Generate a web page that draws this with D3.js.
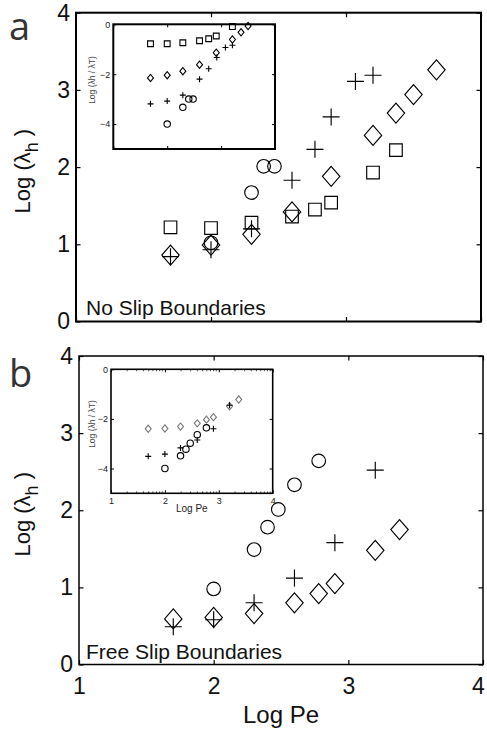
<!DOCTYPE html>
<html>
<head>
<meta charset="utf-8">
<script src="https://cdn.jsdelivr.net/npm/d3@7"></script>
<style>
  body { margin: 0; background: #fff; }
  svg { display: block; }
</style>
</head>
<body>
<svg id="chart" width="487" height="731"></svg>
<script>
// Data: [log Pe, value]
// panel a, main: log(lambda_h)
const noSlipSquare = [[1.70,1.22],[2.00,1.21],[2.30,1.28],[2.60,1.36],[2.77,1.45],[2.89,1.54],[3.20,1.93],[3.37,2.22]];
const noSlipDiamond = [[1.70,0.86],[2.00,0.99],[2.30,1.13],[2.60,1.42],[2.89,1.88],[3.20,2.41],[3.37,2.70],[3.50,2.94],[3.67,3.26]];
const noSlipPlus = [[1.70,0.84],[2.00,0.93],[2.30,1.20],[2.60,1.83],[2.77,2.23],[2.89,2.65],[3.07,3.11],[3.20,3.19]];
const noSlipCircle = [[2.00,1.02],[2.30,1.67],[2.39,2.01],[2.47,2.01]];

// panel a, inset: log(lambda_h / lambda_T)
const noSlipSquareIn = [[1.69,-0.78],[2.00,-0.78],[2.29,-0.74],[2.60,-0.66],[2.77,-0.58],[2.91,-0.47],[3.21,-0.09]];
const noSlipDiamondIn = [[1.69,-2.15],[2.00,-2.04],[2.29,-1.88],[2.60,-1.62],[2.91,-1.14],[3.21,-0.61],[3.37,-0.32],[3.50,-0.07]];
const noSlipPlusIn = [[1.69,-3.19],[2.00,-3.08],[2.29,-2.84],[2.60,-2.20],[2.77,-1.78],[2.92,-1.33],[3.08,-0.93],[3.21,-0.84]];
const noSlipCircleIn = [[2.00,-4.00],[2.29,-3.33],[2.40,-3.00],[2.48,-3.00]];

// panel b, main
const freeSlipCircle = [[2.00,0.98],[2.30,1.49],[2.40,1.78],[2.48,2.01],[2.60,2.33],[2.78,2.64]];
const freeSlipPlus = [[1.70,0.49],[2.00,0.58],[2.30,0.80],[2.60,1.12],[2.90,1.58],[3.20,2.52]];
const freeSlipDiamond = [[1.70,0.59],[2.00,0.61],[2.30,0.66],[2.60,0.80],[2.78,0.92],[2.90,1.05],[3.20,1.48],[3.38,1.75]];

// panel b, inset
const freeSlipDiamondIn = [[1.69,-2.40],[2.00,-2.39],[2.29,-2.31],[2.60,-2.18],[2.77,-2.03],[2.90,-1.93],[3.20,-1.49],[3.37,-1.22]];
const freeSlipPlusIn = [[1.69,-3.51],[2.00,-3.42],[2.29,-3.17],[2.60,-2.85],[2.90,-2.40],[3.20,-1.45]];
const freeSlipCircleIn = [[2.00,-4.00],[2.29,-3.49],[2.39,-3.22],[2.47,-2.98],[2.60,-2.64],[2.77,-2.36]];

// axes
const xDomain = [1, 4];
const xTicks = [1, 2, 3, 4];
const mainYDomain = [0, 4];
const mainYTicks = [0, 1, 2, 3, 4];
const insetYDomain = [-5, 0];
const insetYTicks = [-4, -2, 0];
const minorFactors = [2, 3, 4, 5, 6, 7, 8, 9];

const svg = d3.select("#chart");
const numFont = "'Liberation Sans', Arial, Helvetica, sans-serif";

// marker sizes (half extents)
const bigMark = { sq: 6.3, r: 6.8, dw: 8.7, dh: 10, p: 8.5, sw: 1.15 };
const smallMark = { sq: 2.9, r: 3.2, dw: 3, dh: 3.6, p: 3, sw: 1.1 };

function markerPath(type, s) {
  if (type === "square") {
    return `M${-s.sq},${-s.sq}H${s.sq}V${s.sq}H${-s.sq}Z`;
  } else if (type === "diamond") {
    return `M0,${-s.dh}L${s.dw},0L0,${s.dh}L${-s.dw},0Z`;
  } else if (type === "plus") {
    return `M${-s.p},0H${s.p}M0,${-s.p}V${s.p}`;
  }
  // circle
  return `M${s.r},0A${s.r},${s.r} 0 1,1 ${-s.r},0A${s.r},${s.r} 0 1,1 ${s.r},0Z`;
}

function drawSeries(g, x, y, data, type, s, color) {
  g.append("g").selectAll("path")
    .data(data)
    .enter().append("path")
      .attr("transform", d => `translate(${x(d[0])},${y(d[1])})`)
      .attr("d", markerPath(type, s))
      .attr("fill", "none")
      .attr("stroke", color || "#000")
      .attr("stroke-width", s.sw);
}

// box with inward ticks on every side, matlab style
function drawFrame(g, x, y, opt) {
  const w = x.range()[1], h = y.range()[0];
  const t = opt.tick;

  const left = g.append("g")
    .call(d3.axisLeft(y).tickValues(opt.yTicks).tickSizeInner(-t).tickSizeOuter(0)
      .tickPadding(opt.yPad).tickFormat(opt.yLabels ? d3.format("d") : ""));
  const right = g.append("g").attr("transform", `translate(${w},0)`)
    .call(d3.axisRight(y).tickValues(opt.yTicks).tickSizeInner(-t).tickSizeOuter(0).tickFormat(""));
  const bottom = g.append("g").attr("transform", `translate(0,${h})`)
    .call(d3.axisBottom(x).tickValues(opt.xTicks).tickSizeInner(-t).tickSizeOuter(0)
      .tickPadding(opt.xPad).tickFormat(opt.xLabels ? d3.format("d") : ""));
  const top = g.append("g")
    .call(d3.axisTop(x).tickValues(opt.xTicks).tickSizeInner(-t).tickSizeOuter(0).tickFormat(""));

  [left, right, bottom, top].forEach(a => {
    a.select(".domain").remove();
    a.selectAll(".tick line").attr("stroke", "#000").attr("stroke-width", opt.tickW);
    a.selectAll("text")
      .attr("fill", opt.textColor)
      .style("font-family", numFont)
      .style("font-size", opt.fontSize + "px");
  });

  // last x label sits right at the page edge, nudge it in
  if (opt.xLabels && opt.lastShift) {
    bottom.selectAll(".tick text").filter(d => d === xTicks[xTicks.length - 1])
      .attr("x", -opt.lastShift);
  }

  if (opt.minor) {
    const minor = [];
    for (let u = xDomain[0]; u < xDomain[1]; u++) {
      minorFactors.forEach(k => minor.push(u + Math.log10(k)));
    }
    [0, h].forEach((yy, i) => {
      g.append("g").selectAll("line")
        .data(minor)
        .enter().append("line")
          .attr("x1", d => x(d)).attr("x2", d => x(d))
          .attr("y1", yy).attr("y2", i === 0 ? yy + 2 : yy - 2)
          .attr("stroke", "#333")
          .attr("stroke-width", 0.8);
    });
  }

  g.append("rect")
    .attr("width", w).attr("height", h)
    .attr("fill", "none")
    .attr("stroke", "#000")
    .attr("stroke-width", opt.frameW);
}

function yLabelMain(g, cx, cy) {
  const t = g.append("text")
    .attr("transform", `translate(${cx},${cy}) rotate(-90)`)
    .attr("text-anchor", "middle")
    .attr("fill", "#111")
    .style("font-family", numFont)
    .style("font-size", "22px");
  t.append("tspan").text("Log (\u03bb");
  t.append("tspan").attr("dy", 8).style("font-size", "18px").text("h");
  t.append("tspan").attr("dy", -8).text(" )");
}

function yLabelInset(g, cx, cy) {
  g.append("text")
    .attr("transform", `translate(${cx},${cy}) rotate(-90)`)
    .attr("text-anchor", "middle")
    .attr("fill", "#444")
    .style("font-family", numFont)
    .style("font-size", "8.5px")
    .text("Log (\u03bbh / \u03bbT)");
}

// panel geometry (px)
const panels = [
  { left: 76, right: 481, top: 12.7, bottom: 321.5, frameW: 2, letter: "a", letterY: 40,
    note: "No Slip Boundaries", noteY: 315, xLabels: false,
    inset: { left: 113.3, right: 275, top: 24.3, bottom: 149, frameW: 2, xLabels: false, minor: false, labelY: 80 },
    series: [[noSlipSquare, "square"], [noSlipDiamond, "diamond"], [noSlipPlus, "plus"], [noSlipCircle, "circle"]],
    insetSeries: [[noSlipSquareIn, "square"], [noSlipDiamondIn, "diamond"], [noSlipPlusIn, "plus"], [noSlipCircleIn, "circle"]] },
  { left: 79, right: 483, top: 356, bottom: 664.5, frameW: 1.5, letter: "b", letterY: 387,
    note: "Free Slip Boundaries", noteY: 659, xLabels: true,
    inset: { left: 111, right: 272.7, top: 369.3, bottom: 493.3, frameW: 1.6, xLabels: true, minor: true, labelY: 424 },
    series: [[freeSlipCircle, "circle"], [freeSlipPlus, "plus"], [freeSlipDiamond, "diamond"]],
    insetSeries: [[freeSlipDiamondIn, "diamond", "#777"], [freeSlipPlusIn, "plus"], [freeSlipCircleIn, "circle"]] }
];

panels.forEach(p => {
  const w = p.right - p.left, h = p.bottom - p.top;
  const x = d3.scaleLinear().domain(xDomain).range([0, w]);
  const y = d3.scaleLinear().domain(mainYDomain).range([h, 0]);
  const g = svg.append("g").attr("transform", `translate(${p.left},${p.top})`);

  drawFrame(g, x, y, { tick: 4.5, tickW: 1.2, frameW: p.frameW, yTicks: mainYTicks, xTicks: xTicks,
    yLabels: true, xLabels: p.xLabels, yPad: 6, xPad: 13, fontSize: 23, textColor: "#111", lastShift: 5 });

  p.series.forEach(s => drawSeries(g, x, y, s[0], s[1], bigMark, s[2]));

  // note text in lower left
  svg.append("text")
    .attr("x", 86).attr("y", p.noteY)
    .attr("fill", "#111")
    .style("font-family", numFont)
    .style("font-size", "21px")
    .text(p.note);

  // panel letter
  svg.append("text")
    .attr("x", 9).attr("y", p.letterY)
    .attr("fill", "#333")
    .style("font-family", "'Open Sans', sans-serif")
    .style("font-size", "38px")
    .text(p.letter);

  yLabelMain(svg, 30, (p.top + p.bottom) / 2 + 4);

  // inset
  const q = p.inset;
  const iw = q.right - q.left, ih = q.bottom - q.top;
  const ix = d3.scaleLinear().domain(xDomain).range([0, iw]);
  const iy = d3.scaleLinear().domain(insetYDomain).range([ih, 0]);
  const ig = svg.append("g").attr("transform", `translate(${q.left},${q.top})`);
  ig.append("rect").attr("width", iw).attr("height", ih).attr("fill", "#fff");
  drawFrame(ig, ix, iy, { tick: 3, tickW: 1, frameW: q.frameW, yTicks: insetYTicks, xTicks: xTicks,
    yLabels: true, xLabels: q.xLabels, yPad: 3, xPad: 4, fontSize: 9, textColor: "#222", minor: q.minor });
  p.insetSeries.forEach(s => drawSeries(ig, ix, iy, s[0], s[1], smallMark, s[2]));

  yLabelInset(svg, 95, q.labelY);
  if (q.xLabels) {
    svg.append("text")
      .attr("x", (q.left + q.right) / 2).attr("y", q.bottom + 19)
      .attr("text-anchor", "middle")
      .attr("fill", "#222")
      .style("font-family", numFont)
      .style("font-size", "10px")
      .text("Log Pe");
  }

  // main x label on bottom panel only
  if (p.xLabels) {
    svg.append("text")
      .attr("x", (p.left + p.right) / 2).attr("y", 723)
      .attr("text-anchor", "middle")
      .attr("fill", "#111")
      .style("font-family", numFont)
      .style("font-size", "24px")
      .text("Log Pe");
  }
});
</script>
</body>
</html>
